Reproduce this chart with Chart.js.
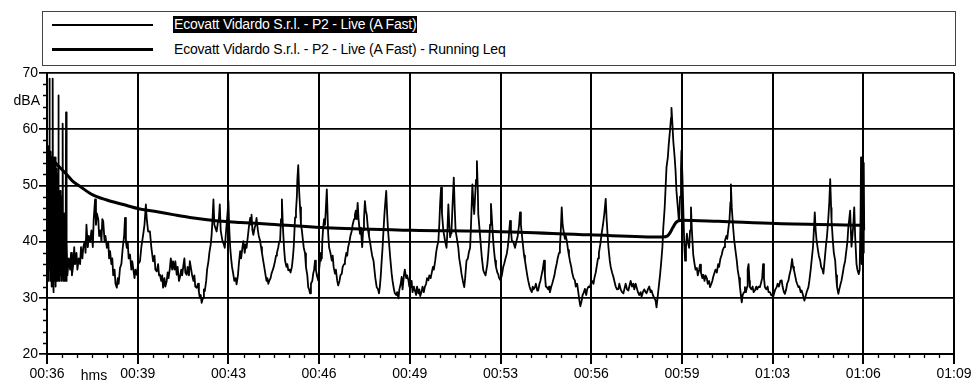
<!DOCTYPE html>
<html>
<head>
<meta charset="utf-8">
<title>Ecovatt Vidardo S.r.l. - P2</title>
<script src="https://cdn.jsdelivr.net/npm/chart.js@4/dist/chart.umd.min.js"></script>
<style>
  html, body { margin: 0; padding: 0; background: #fff; }
  #wrap { position: relative; width: 976px; height: 387px; overflow: hidden; }
  #plot { position: absolute; left: 0; top: 0; }
  #legend {
    position: absolute; left: 42px; top: 11px; width: 914px; height: 55px;
    box-sizing: border-box; border: 1.5px solid #444; background: #fff;
    font-family: "Liberation Sans", Arial, sans-serif; font-size: 14px;
    letter-spacing: -0.2px; color: #000;
  }
  .row { position: absolute; left: 0; height: 18px; width: 100%; }
  .row .swatch { position: absolute; left: 9px; width: 101px; background: #000; }
  .row .txt { position: absolute; left: 130px; top: 0; line-height: 17px; padding: 0 1px; white-space: nowrap; }
  .row .txt.sel { background: #000; color: #fff; }
</style>
</head>
<body>
<div id="wrap">
  <canvas id="plot" width="976" height="387"></canvas>
  <div id="legend"></div>
</div>
<script>
// Time axis: seconds from the start of the measurement, one labelled division every 200 s
const xTickLabels = ['00:36', '00:39', '00:43', '00:46', '00:49', '00:53', '00:56', '00:59', '01:03', '01:06', '01:09'];
const yTickValues = [20, 30, 40, 50, 60, 70];

const seriesNames = [
  'Ecovatt Vidardo S.r.l. - P2 - Live (A Fast)',
  'Ecovatt Vidardo S.r.l. - P2 - Live (A Fast) - Running Leq'
];

// Live A-fast level, [seconds, dBA], one block per time division
const live0036 = [[0,45],[0.5,55],[1,36],[1.5,56],[2,34],[2.5,54],[3,38],[3.5,57],[4,33],[4.5,52],[5,37],[5.5,58],[6,69],[6.5,35],[7,54],[7.5,33],[8,56],[8.5,36],[9,53],[9.5,32],[10,55],[10.5,35],[11,50],[11.5,34],[12,56],[12.5,38],[13,69],[13.5,33],[14,52],[14.5,31],[15,54],[15.5,35],[16,50],[16.5,33],[17,55],[17.5,36],[18,52],[18.5,34],[19,55],[19.5,32],[20,50],[20.5,36],[21,53],[21.5,34],[22,48],[22.5,33],[23,52],[23.5,37],[24,50],[24.5,34],[25,66],[25.5,36],[26,50],[26.5,33],[27,48],[27.5,35],[28,46],[28.5,33],[29,49],[29.5,36],[30,45],[30.5,34],[31,48],[31.5,33],[32,44],[32.5,36],[33,46],[33.5,34],[34,43],[34.5,37],[35,61],[35.5,35],[36,45],[36.5,33],[37,44],[37.5,36],[38,42],[38.5,33],[39,45],[39.5,35],[40,41],[40.5,33],[41,44],[41.5,36],[42,63],[42.5,33],[43,42],[43.5,35],[44,40],[45,34],[46,34],[48,37],[51,35],[53,38],[55,34],[58,36],[60,39],[62,36],[65,38],[67,35],[70,37],[73,36],[75,39],[78,37],[80,39],[83,40],[85,38],[87,43],[90,39],[92,41],[95,40],[98,42],[101,39],[103,44],[106,47.5],[108,43],[110,45],[113,44],[115,41],[118,42],[120,40],[122,44],[124,43.6],[127,40],[129,41],[132,38.9],[135,40],[137,37],[139,38.3],[142,36],[144,37],[146,34],[149,35],[151,32.5],[154,31.8],[156,33.5],[158,32.5],[161,35.3],[164,36],[167,38.9],[170,41],[172,44.2],[174,40],[176,38.9],[178,40],[180,37],[183,37.7],[186,35],[188,36.5],[190,35.3],[193,33.5],[195,35],[198,34.1]];
const live0039 = [[201,36],[205,36.5],[208,39],[212,41.2],[215,43],[218,46.6],[220,44],[223,41.8],[227,41.8],[230,39],[234,36.5],[237,37.5],[239,35],[242,34.7],[245,36],[247,34],[249,34.1],[252,33],[254,34],[256,31.8],[259,33.5],[261,32],[264,33],[266,34.5],[268,33.5],[271,35.3],[273,37],[276,35],[278,36.5],[281,35],[283,36.5],[286,34.1],[288,35.5],[291,33],[293,33.6],[296,35],[298,34],[301,35.9],[303,37],[305,34.5],[308,34.1],[310,35.5],[313,34],[315,36.5],[318,35],[320,34],[323,33],[325,34],[327,32],[330,31.8],[333,32.5],[335,31],[337,30],[339,30.5],[341,29.1],[344,30],[346,31.5],[348,31.2],[351,33],[353,35],[356,36.5],[358,38],[361,39.5],[363,41.2],[365,44],[367,47.5],[369,43],[371,42.5],[374,41.8],[377,43.5],[379,44],[381,46.6],[383,42],[385,41],[387,40.1],[390,39.5],[392,38.9],[394,41],[396,43],[398,45],[400,47.2]];
const live0043 = [[402,42],[404,38.9],[406,37],[408,35.5],[411,34.1],[413,33],[416,33.5],[418,32.4],[421,34],[423,36],[426,38.3],[428,37],[431,39],[433,40.1],[436,38],[438,39.5],[440,38.9],[443,41],[445,42.5],[448,44.2],[450,43],[451,44.8],[453,42],[455,41.2],[458,42.5],[460,43],[462,44.2],[465,42],[467,41],[470,40.1],[472,39],[474,38],[477,36.5],[479,35.5],[482,34],[484,33],[486,33.5],[488,32.5],[490,33],[493,33.5],[495,34.3],[498,35],[500,35.5],[503,36.6],[505,37.5],[507,38],[510,39],[512,40],[514,40.1],[516,44],[518,47.5],[520,43],[521,41.4],[523,38.5],[525,36.6],[528,35.5],[530,36],[532,34.9],[535,35],[537,34.5],[540,35.5],[542,37],[544,39],[547,44.3],[549,45.5],[551,48],[552,51],[554,53.6],[556,49],[558,46.1],[560,43],[562,42],[564,40.5],[566,39],[569,37.9],[571,35.5],[574,34],[576,31.9],[578,31.5],[580,30.8],[582,32.5],[585,33],[587,34.3],[589,35],[591,36.6],[593,35],[595,34],[598,33.1],[600,35]];
const live0046 = [[602,36.6],[604,38],[606,37],[607,40],[609,42.5],[611,44],[613,43],[615,46],[617,49.3],[619,44],[620,41.4],[622,39],[625,38],[628,36.6],[630,37.5],[632,35.5],[635,34.3],[637,35],[640,33],[642,32.2],[645,33],[647,34],[650,34.3],[652,35.5],[655,36],[657,36.6],[660,38],[662,37.5],[664,39],[667,40],[669,41],[672,41.9],[674,43],[677,44],[679,44.8],[681,45.5],[683,44],[685,46.9],[687,44],[690,41.4],[692,42.5],[695,39],[697,42],[699,44],[701,47.2],[703,45.5],[705,44.8],[708,42],[710,41],[712,40.1],[715,38.5],[717,37.5],[720,36.6],[722,35],[724,33.5],[727,31.9],[730,31.5],[732,30.8],[734,32],[736,34],[738,36.6],[740,39],[742,42],[744,44.8],[746,47],[748,49],[750,45],[752,42],[755,39],[757,37],[760,34.3],[762,33],[765,31.5],[767,30.8],[770,30.5],[772,31],[775,29.9],[777,31.5],[780,32.5],[782,33.7],[784,31.5],[787,34],[789,35],[792,33.5],[794,34],[797,33.1],[799,32]];
const live0049 = [[802,31.9],[804,33],[806,31],[809,32],[811,31.4],[814,30.5],[816,32],[819,30.8],[821,31.5],[823,30.3],[826,31.1],[828,32],[831,31],[833,31.9],[836,32.5],[838,33.5],[841,33.1],[843,34],[846,33.5],[848,34.3],[851,35.5],[853,35],[856,36.6],[858,38],[860,39],[863,40.1],[865,43],[867,47],[869,49.6],[871,45],[874,41.9],[876,41],[878,40],[881,38.9],[883,42],[885,46.6],[887,43],[889,40.8],[891,41.5],[892,42],[894,46],[897,51.4],[899,46],[901,41.9],[904,40.5],[907,38.9],[909,37],[912,35.5],[914,34.3],[917,33],[920,31.9],[922,33.5],[925,36.6],[928,37],[930,38],[933,38.9],[935,43],[938,50.2],[940,47],[942,44.9],[944,48],[946,51],[948,54.3],[950,49],[951,44.9],[954,42],[957,38.9],[959,37],[962,34.9],[964,34.5],[967,34],[969,35],[971,36],[973,37.8],[975,40],[977,43],[979,46.7],[981,44],[983,41.3],[985,39],[988,36.6],[990,35.5],[993,34.5],[995,34.2],[997,33.5]];
const live0053 = [[1000,33.1],[1003,34],[1006,35.5],[1008,36],[1011,37],[1014,37.9],[1016,39],[1018,40.5],[1021,43.7],[1023,42],[1025,40.2],[1028,40],[1030,39.5],[1032,38.9],[1035,40],[1038,41],[1041,43],[1043,45.2],[1045,43],[1047,41.4],[1050,39],[1052,37.5],[1054,36.6],[1057,35],[1059,34],[1061,33.1],[1064,32],[1066,31.5],[1069,31],[1071,32],[1073,31.5],[1076,31.9],[1078,32.5],[1081,31.3],[1083,31.3],[1086,32.5],[1088,33],[1091,34.2],[1093,35],[1096,36.6],[1098,34],[1100,32],[1102,31.9],[1105,31.5],[1107,32],[1109,31],[1112,32],[1114,32.5],[1116,33.1],[1119,34],[1121,35],[1124,36.1],[1126,37],[1129,38],[1131,39.1],[1133,42],[1135,46.1],[1137,43],[1140,41.4],[1142,40.5],[1144,41],[1146,40.2],[1149,38.5],[1151,37.5],[1153,36.6],[1156,35.5],[1158,34.5],[1161,33.5],[1164,33.1],[1166,32],[1169,32.5],[1171,31.3],[1174,29.5],[1176,28.5],[1179,29.5],[1181,30.5],[1184,31],[1186,31.6],[1189,30.5],[1191,31.5],[1194,32],[1197,31.9],[1199,32.5]];
const live0056 = [[1202,33],[1205,32.5],[1207,33.5],[1210,34.5],[1212,35.5],[1215,37],[1217,38],[1220,39.5],[1223,41.4],[1226,43],[1229,45],[1232,47.6],[1234,44],[1236,41.4],[1238,39],[1241,36.6],[1243,35.5],[1246,34.5],[1249,33.7],[1251,33],[1254,32],[1257,31.5],[1260,31.6],[1262,32.5],[1265,31.5],[1268,31],[1271,30.8],[1273,31.5],[1276,32.5],[1279,31.5],[1282,31.3],[1284,32],[1287,33],[1290,32],[1293,32.5],[1295,31.5],[1298,32.5],[1300,31.9],[1303,31],[1306,30.5],[1309,31],[1311,30.2],[1314,31],[1317,31.5],[1320,31],[1322,30.8],[1325,31.5],[1328,32],[1331,31],[1333,31.3],[1336,30.5],[1339,30],[1342,29.5],[1344,28.3],[1347,30.5],[1349,32],[1352,34.2],[1354,36],[1357,39],[1359,42.5],[1362,46],[1364,49.5],[1366,53.2],[1369,55],[1371,57.3],[1374,60],[1376,62],[1377,63.8],[1379,61],[1381,57.9],[1384,55],[1386,52.6],[1388,49],[1391,46.1],[1393,44],[1394,43.7],[1396,48],[1398,53],[1399,56.2]];
const live0059 = [[1401,52],[1403,46.1],[1405,40],[1407,36.6],[1409,39],[1411,41.4],[1413,40],[1416,38.9],[1418,42],[1420,46.1],[1422,42],[1425,37.7],[1427,36.5],[1430,35],[1433,35.3],[1435,34],[1438,35],[1440,35.9],[1442,34.5],[1445,33.5],[1447,34.1],[1450,33],[1452,34],[1455,33.5],[1457,32.5],[1460,33],[1462,31.9],[1465,32.5],[1467,33],[1469,33.7],[1472,34.5],[1474,35],[1477,34.5],[1480,36],[1482,35.5],[1485,37],[1488,37.7],[1490,38.5],[1493,39],[1495,40.2],[1498,41],[1500,40.5],[1502,42],[1505,44],[1507,47],[1508,50.2],[1510,46],[1513,42.5],[1515,40.5],[1518,38.5],[1521,36.6],[1523,35],[1526,33.5],[1528,31.9],[1530,30.5],[1532,29.2],[1534,30.5],[1537,31],[1539,31.9],[1541,31],[1544,32],[1545,35],[1547,36],[1549,33],[1550,31.9],[1553,31.5],[1556,32],[1558,31],[1561,31.3],[1564,32],[1566,31.5],[1569,32],[1572,31.9],[1574,32.5],[1577,33.5],[1579,36],[1581,33.5],[1583,31.9],[1586,31.5],[1589,32],[1591,31],[1594,31],[1597,30.5],[1599,30.5]];
const live0103 = [[1601,30.1],[1604,31],[1606,31.5],[1609,31.9],[1611,32.5],[1614,32],[1617,33],[1620,33.1],[1622,32],[1625,31],[1627,30.7],[1630,31.5],[1632,32.5],[1635,33.1],[1637,34],[1640,35],[1643,36.9],[1645,35.5],[1647,35],[1649,34.2],[1652,33],[1654,32.5],[1657,31.9],[1659,32],[1662,31],[1664,31.3],[1667,30.5],[1670,29.5],[1672,30],[1675,31],[1679,31.9],[1681,33],[1684,35],[1686,36.6],[1689,39],[1691,42],[1693,45.2],[1695,42],[1697,40.2],[1700,38.5],[1702,37.5],[1705,36.6],[1707,35.5],[1710,35],[1712,34.3],[1714,36],[1718,39.6],[1720,41],[1723,44.3],[1725,47],[1727,51.1],[1729,46],[1730,43.7],[1733,40],[1735,38],[1738,36.6],[1740,34],[1742,32],[1745,30.7],[1747,31.5],[1750,32.5],[1752,33.1],[1755,34.5],[1757,35.5],[1760,36.6],[1762,38],[1765,40],[1767,42.6],[1769,44],[1771,45.5],[1773,41],[1774,39.1],[1776,41],[1778,43],[1780,46.1],[1782,41],[1785,36],[1787,35],[1790,34.2],[1792,35],[1794,45],[1795,55],[1796,36],[1797,54],[1798,37],[1799,52],[1800,38],[1801,54],[1802,42]];

// Running Leq, [seconds, dBA]
const runningLeq = [[0,55.5],[7,55],[22,53.7],[44,51.9],[57,50.7],[73,49.8],[101,48.3],[132,47.4],[168,46.6],[205,45.8],[243,45.3],[278,44.8],[315,44.3],[353,43.9],[388,43.6],[426,43.4],[492,43.1],[628,42.4],[805,42],[987,41.8],[1197,41.2],[1358,40.8],[1368,41.0],[1374,41.6],[1380,42.5],[1386,43.3],[1392,43.7],[1400,43.8],[1480,43.6],[1608,43.2],[1803,42.9]];

const livePoints = [live0036, live0039, live0043, live0046, live0049, live0053, live0056, live0059, live0103]
  .flat().map(([x, y]) => ({ x, y }));
const leqPoints = runningLeq.map(([x, y]) => ({ x, y }));

const X_MAX = 2000;      // ten divisions of 200 s
const X_SUB = 6;         // minor ticks per division
const Y_STEP = 2;        // minor tick spacing on the level axis

Chart.defaults.font.family = '"Liberation Sans", Arial, sans-serif';
Chart.defaults.font.size = 14;
Chart.defaults.color = '#000';

const isMajorX = i => i % X_SUB === 0;
const isMajorY = v => yTickValues.includes(v);

// Short minor tick marks outside the plot frame
const minorTicks = {
  id: 'minorTicks',
  afterDraw(chart) {
    const { ctx, scales: { x, y } } = chart;
    ctx.save();
    ctx.strokeStyle = '#000';
    ctx.lineWidth = 1.3;
    ctx.beginPath();
    x.ticks.forEach((t, i) => {
      if (isMajorX(i)) return;
      const px = Math.round(x.getPixelForValue(t.value)) + 0.5;
      ctx.moveTo(px, y.bottom);
      ctx.lineTo(px, y.bottom + 4);
    });
    y.ticks.forEach(t => {
      if (isMajorY(t.value)) return;
      const py = Math.round(y.getPixelForValue(t.value)) + 0.5;
      ctx.moveTo(x.left - 4, py);
      ctx.lineTo(x.left, py);
    });
    ctx.stroke();
    ctx.restore();
  }
};

// Unit captions: dBA under the top of the level axis, hms beside the first time label
const unitLabels = {
  id: 'unitLabels',
  afterDraw(chart) {
    const { ctx, chartArea, scales: { y } } = chart;
    ctx.save();
    ctx.fillStyle = '#000';
    ctx.font = '14px "Liberation Sans", Arial, sans-serif';
    ctx.textBaseline = 'middle';
    ctx.textAlign = 'right';
    ctx.fillText('dBA', chartArea.left - 7, y.getPixelForValue(65));
    ctx.textAlign = 'center';
    ctx.fillText('hms', chartArea.left + 47, chartArea.bottom + 22);
    ctx.restore();
  }
};

const chart = new Chart(document.getElementById('plot'), {
  type: 'line',
  data: {
    datasets: [
      {
        label: seriesNames[0],
        data: livePoints,
        borderColor: '#000',
        borderWidth: 1.8,
        borderJoinStyle: 'round',
        pointRadius: 0,
        tension: 0
      },
      {
        label: seriesNames[1],
        data: leqPoints,
        borderColor: '#000',
        borderWidth: 3,
        pointRadius: 0,
        cubicInterpolationMode: 'monotone'
      }
    ]
  },
  options: {
    responsive: false,
    devicePixelRatio: 1,
    animation: false,
    layout: { padding: { top: 73, right: 22, left: 0, bottom: 0 } },
    plugins: { legend: { display: false }, tooltip: { enabled: false } },
    scales: {
      x: {
        type: 'linear',
        min: 0,
        max: X_MAX,
        afterBuildTicks(scale) {
          const divisions = xTickLabels.length - 1;
          const ticks = [];
          for (let j = 0; j <= divisions * X_SUB; j++) {
            ticks.push({ value: j * X_MAX / (divisions * X_SUB) });
          }
          scale.ticks = ticks;
        },
        afterFit(scale) { scale.height = 33; },
        ticks: {
          autoSkip: false,
          maxRotation: 0,
          padding: 2,
          callback: (v, i) => (isMajorX(i) ? xTickLabels[i / X_SUB] : '')
        },
        grid: {
          color: c => (isMajorX(c.index) ? '#000' : 'rgba(0,0,0,0)'),
          tickColor: c => (isMajorX(c.index) ? '#000' : 'rgba(0,0,0,0)'),
          lineWidth: 2,
          tickWidth: 2,
          tickLength: 10
        },
        border: { display: true, color: '#000', width: 2 }
      },
      y: {
        type: 'linear',
        min: 20,
        max: 70,
        afterFit(scale) { scale.width = 47; },
        ticks: {
          stepSize: Y_STEP,
          autoSkip: false,
          padding: 1,
          callback: v => (isMajorY(v) ? String(v) : '')
        },
        grid: {
          color: c => (isMajorY(c.tick.value) ? '#000' : 'rgba(0,0,0,0)'),
          tickColor: c => (isMajorY(c.tick.value) ? '#000' : 'rgba(0,0,0,0)'),
          lineWidth: 1.7,
          tickWidth: 1.7,
          tickLength: 8
        },
        border: { display: true, color: '#000', width: 2 }
      }
    }
  },
  plugins: [minorTicks, unitLabels]
});

// Legend box built from the chart's datasets
const legendEl = document.getElementById('legend');
const rowTops = [4, 29];
chart.data.datasets.forEach((ds, i) => {
  const row = document.createElement('div');
  row.className = 'row';
  row.style.top = rowTops[i] + 'px';
  const sw = document.createElement('span');
  sw.className = 'swatch';
  sw.style.height = (i === 0 ? 1.6 : 3) + 'px';
  sw.style.top = (i === 0 ? 8 : 7) + 'px';
  const tx = document.createElement('span');
  tx.className = 'txt' + (i === 0 ? ' sel' : '');
  tx.textContent = ds.label;
  row.appendChild(sw);
  row.appendChild(tx);
  legendEl.appendChild(row);
});
</script>
</body>
</html>
